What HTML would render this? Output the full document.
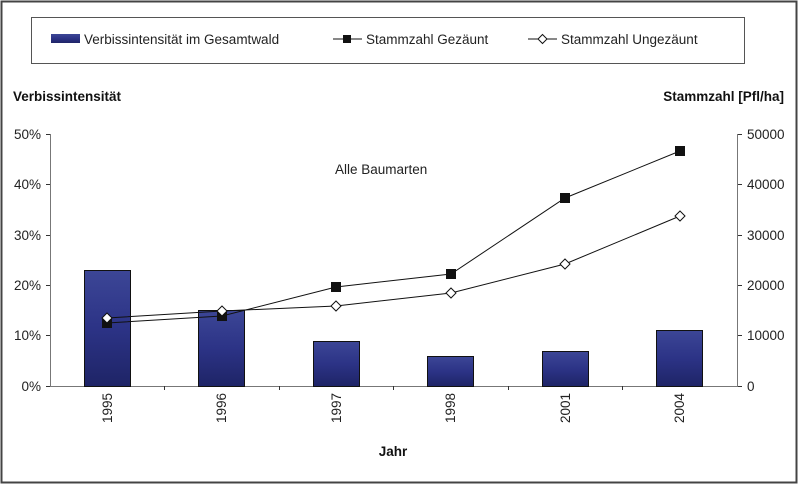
<!DOCTYPE html>
<html><head><meta charset="utf-8"><style>
html,body{margin:0;padding:0;background:#fff}
svg{display:block;font-family:"Liberation Sans",sans-serif}
</style></head><body>
<svg width="800" height="486" viewBox="0 0 800 486" xmlns="http://www.w3.org/2000/svg">
<defs>
<linearGradient id="g" x1="0" y1="0" x2="0" y2="1">
<stop offset="0" stop-color="#3c4696"/><stop offset="0.5" stop-color="#2c3386"/><stop offset="1" stop-color="#1e2466"/>
</linearGradient>
</defs>
<rect x="1.5" y="1.5" width="795" height="481" fill="#fff" stroke="#444" stroke-width="2"/>
<rect x="31.5" y="17.5" width="713" height="46" fill="#fff" stroke="#555" stroke-width="1"/>
<rect x="51" y="34" width="29" height="9" fill="url(#g)"/>
<text x="84" y="44" font-size="13.5" fill="#222">Verbissintensität im Gesamtwald</text>
<line x1="333" y1="39" x2="362" y2="39" stroke="#111"/>
<rect x="343" y="35" width="8" height="8" fill="#111"/>
<text x="366" y="44" font-size="13.5" fill="#222">Stammzahl Gezäunt</text>
<line x1="528" y1="39" x2="557" y2="39" stroke="#111"/>
<polygon points="542.5,34.5 547,39 542.5,43.5 538,39" fill="#fff" stroke="#111"/>
<text x="561" y="44" font-size="13.5" fill="#222">Stammzahl Ungezäunt</text>
<text x="13" y="101" font-size="13.5" font-weight="bold" fill="#111">Verbissintensität</text>
<text x="784" y="101" font-size="13.5" font-weight="bold" fill="#111" text-anchor="end">Stammzahl [Pfl/ha]</text>
<text x="335" y="174" font-size="13.5" fill="#222">Alle Baumarten</text>
<g stroke="#777" stroke-width="1">
<line x1="50.5" y1="134" x2="50.5" y2="386"/>
<line x1="737.5" y1="134" x2="737.5" y2="386"/>
<line x1="50" y1="386.5" x2="738" y2="386.5"/>
</g>
<g stroke="#333" stroke-width="1">
<line x1="46" y1="134.5" x2="50" y2="134.5"/><line x1="46" y1="184.5" x2="50" y2="184.5"/><line x1="46" y1="235.5" x2="50" y2="235.5"/><line x1="46" y1="285.5" x2="50" y2="285.5"/><line x1="46" y1="335.5" x2="50" y2="335.5"/><line x1="46" y1="386.5" x2="50" y2="386.5"/>
<line x1="738" y1="134.5" x2="742" y2="134.5"/><line x1="738" y1="184.5" x2="742" y2="184.5"/><line x1="738" y1="235.5" x2="742" y2="235.5"/><line x1="738" y1="285.5" x2="742" y2="285.5"/><line x1="738" y1="335.5" x2="742" y2="335.5"/><line x1="738" y1="386.5" x2="742" y2="386.5"/>
<line x1="164.5" y1="386" x2="164.5" y2="390"/><line x1="279.5" y1="386" x2="279.5" y2="390"/><line x1="393.5" y1="386" x2="393.5" y2="390"/><line x1="508.5" y1="386" x2="508.5" y2="390"/><line x1="622.5" y1="386" x2="622.5" y2="390"/>
</g>
<g font-size="13.5" fill="#222" text-anchor="end">
<text x="41" y="139">50%</text><text x="41" y="189">40%</text><text x="41" y="240">30%</text><text x="41" y="290">20%</text><text x="41" y="340">10%</text><text x="41" y="391">0%</text>
</g>
<g font-size="13.5" fill="#222">
<text x="747" y="139">50000</text><text x="747" y="189">40000</text><text x="747" y="240">30000</text><text x="747" y="290">20000</text><text x="747" y="340">10000</text><text x="747" y="391">0</text>
</g>
<g fill="url(#g)" stroke="#111" stroke-width="1">
<rect x="84.5" y="270.5" width="46" height="116"/>
<rect x="198.5" y="310.5" width="46" height="76"/>
<rect x="313.5" y="341.5" width="46" height="45"/>
<rect x="427.5" y="356.5" width="46" height="30"/>
<rect x="542.5" y="351.5" width="46" height="35"/>
<rect x="656.5" y="330.5" width="46" height="56"/>
</g>
<g font-size="13.5" fill="#222" text-anchor="middle">
<text transform="translate(112,408) rotate(-90)">1995</text>
<text transform="translate(226,408) rotate(-90)">1996</text>
<text transform="translate(341,408) rotate(-90)">1997</text>
<text transform="translate(455,408) rotate(-90)">1998</text>
<text transform="translate(570,408) rotate(-90)">2001</text>
<text transform="translate(684,408) rotate(-90)">2004</text>
</g>
<text x="393" y="456" font-size="13.5" font-weight="bold" fill="#111" text-anchor="middle">Jahr</text>
<polyline points="107,323 222,316 336,287 451,274 565,198 680,151" fill="none" stroke="#111" stroke-width="1"/>
<g fill="#111">
<rect x="102" y="318" width="10" height="10"/><rect x="217" y="311" width="10" height="10"/><rect x="331" y="282" width="10" height="10"/><rect x="446" y="269" width="10" height="10"/><rect x="560" y="193" width="10" height="10"/><rect x="675" y="146" width="10" height="10"/>
</g>
<polyline points="107,318 222,311 336,306 451,293 565,264 680,216" fill="none" stroke="#111" stroke-width="1"/>
<g fill="#fff" stroke="#111" stroke-width="1">
<polygon points="107,313 112,318 107,323 102,318"/>
<polygon points="222,306 227,311 222,316 217,311"/>
<polygon points="336,301 341,306 336,311 331,306"/>
<polygon points="451,288 456,293 451,298 446,293"/>
<polygon points="565,259 570,264 565,269 560,264"/>
<polygon points="680,211 685,216 680,221 675,216"/>
</g>
</svg>
</body></html>
